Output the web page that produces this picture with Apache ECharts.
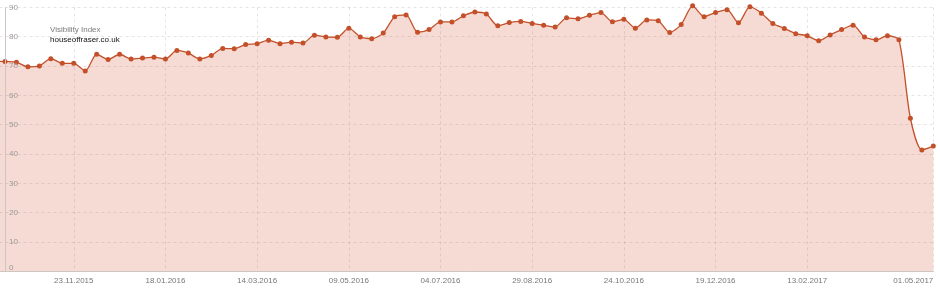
<!DOCTYPE html>
<html>
<head>
<meta charset="utf-8">
<script src="https://cdn.jsdelivr.net/npm/echarts@6/dist/echarts.min.js"></script>
<style>
html,body{margin:0;padding:0;background:#fff;}
#chart{width:940px;height:290px;}
</style>
</head>
<body>
<div id="chart"></div>
<script>
// Weekly visibility index, first entry is the week before the visible range (05.10.2015)
var startDate = '05.10.2015';
var weekCount = 83;
var visibility = [
  71.6,
  71.5, 71.3, 69.7, 70.0, 72.5, 70.9, 70.9, 68.3, 74.0, 72.2,
  74.0, 72.4, 72.7, 73.0, 72.4, 75.3, 74.4, 72.4, 73.6, 76.0,
  75.9, 77.3, 77.6, 78.8, 77.6, 78.1, 77.8, 80.5, 79.9, 79.8,
  82.9, 79.9, 79.3, 81.2, 86.8, 87.4, 81.5, 82.4, 85.0, 85.0,
  87.1, 88.4, 87.7, 83.7, 84.8, 85.2, 84.5, 83.9, 83.3, 86.4,
  86.1, 87.3, 88.2, 85.1, 85.9, 82.9, 85.7, 85.4, 81.4, 84.1,
  90.5, 86.8, 88.2, 89.2, 84.7, 90.2, 88.0, 84.5, 82.8, 81.0,
  80.3, 78.6, 80.6, 82.4, 83.9, 79.9, 78.9, 80.3, 78.9, 52.2,
  41.4, 42.7
];
var tickLabels = ['23.11.2015','18.01.2016','14.03.2016','09.05.2016','04.07.2016',
  '29.08.2016','24.10.2016','19.12.2016','13.02.2017','01.05.2017'];
var yTicks = [0,10,20,30,40,50,60,70,80,90];
var titleText = 'Visibility Index';
var domainText = 'houseoffraser.co.uk';

function pad(n){return (n<10?'0':'')+n;}
var p = startDate.split('.');
var t0 = Date.UTC(+p[2], +p[1]-1, +p[0]);
var categories = [];
for (var i=0;i<weekCount;i++){
  var d = new Date(t0 + i*7*86400000);
  categories.push(pad(d.getUTCDate())+'.'+pad(d.getUTCMonth()+1)+'.'+d.getUTCFullYear());
}
function isTick(idx, val){ return tickLabels.indexOf(categories[idx]) >= 0; }

var font = 'Liberation Sans, Arial, sans-serif';
var gridLine = {color:'rgba(120,90,80,0.16)', type:[3,3], width:1};
var chart = echarts.init(document.getElementById('chart'), null, {renderer:'canvas'});
chart.setOption({
  animation:false,
  title:[
    {text:titleText, left:45, top:20, textStyle:{fontSize:8, fontWeight:'normal', color:'#7a7a7a', fontFamily:font, lineHeight:10}},
    {text:domainText, left:45, top:29.7, textStyle:{fontSize:8, fontWeight:'normal', color:'#111', fontFamily:font, lineHeight:10}}
  ],
  grid:{left:-6.46, right:6.7, top:7.3, bottom:18.6, containLabel:false, outerBoundsMode:'none'},
  xAxis:{
    type:'category', data:categories, boundaryGap:false, z:5,
    axisLine:{show:true, lineStyle:{color:'#cfc6c4', width:1}},
    axisTick:{show:false},
    axisLabel:{interval:isTick, color:'#777', fontSize:8, fontFamily:font, margin:5, alignMaxLabel:'right'},
    splitLine:{show:true, interval:isTick, lineStyle:gridLine}
  },
  yAxis:{
    type:'value', min:yTicks[0], max:yTicks[yTicks.length-1], interval:10, z:5,
    axisLine:{show:false}, axisTick:{show:false},
    axisLabel:{inside:true, margin:15.4, color:'#999', fontSize:8, fontFamily:font,
      formatter:function(v){ return v===0 ? '{z|0}' : String(v); },
      rich:{z:{fontSize:8, color:'#999', fontFamily:font, padding:[0,0,8,0]}}},
    splitLine:{show:true, lineStyle:gridLine}
  },
  series:[{
    type:'line', data:visibility, smooth:0.25, clip:false,
    symbol:'circle', symbolSize:5, showSymbol:true,
    lineStyle:{color:'#c4502a', width:1.3},
    itemStyle:{color:'#c4502a'},
    areaStyle:{color:'#f6dbd4', opacity:1},
    markLine:{silent:true, symbol:'none', label:{show:false},
      lineStyle:{color:'#cfc6c4', type:'solid', width:1},
      data:[{xAxis:1}]},
    z:2
  }]
});
</script>
</body>
</html>
